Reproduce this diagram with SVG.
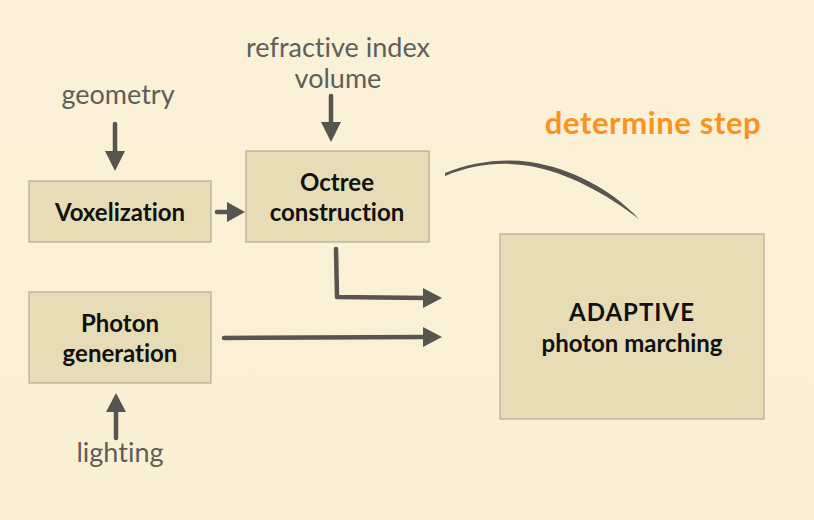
<svg xmlns="http://www.w3.org/2000/svg" width="814" height="520" viewBox="0 0 814 520">
<defs>
<linearGradient id="bg" x1="0" y1="0" x2="0" y2="1"><stop offset="0" stop-color="#fbf1d8"/><stop offset="1" stop-color="#f9efd3"/></linearGradient>
</defs>
<style>
text{font-variant-ligatures:none;font-feature-settings:"liga" 0,"dlig" 0}
.box{fill:#e6dcb6;stroke:#b3ab94;stroke-width:1.2}
.lbl{font-family:Lato,"Open Sans",sans-serif;font-weight:bold;fill:#111;text-anchor:middle;font-size:24px}
.inp{font-family:Lato,"Open Sans",sans-serif;fill:#5e5e5c;text-anchor:middle;font-size:27px}
.c{fill:none;stroke:#58544f;stroke-width:4.5;stroke-linecap:round;stroke-linejoin:round}
.h{fill:#58544f}
</style>
<rect width="814" height="520" fill="url(#bg)"/>
<g id="connectors">
<path class="c" d="M115,124 L115,154"/><path class="h" d="M105,151 L125,151 L115,171 Z"/>
<path class="c" d="M331,96 L331,124"/><path class="h" d="M321,122 L341,122 L331,142 Z"/>
<path class="c" d="M217,212 L230,212"/><path class="h" d="M227,202 L245,212 L227,222 Z"/>
<path class="c" d="M336,249 L337,297 L426,298"/><path class="h" d="M423,288 L442,298 L423,308 Z"/>
<path class="c" d="M224,338 L426,337"/><path class="h" d="M423,327 L442,337 L423,347 Z"/>
<path class="c" d="M116,438 L116,410"/><path class="h" d="M106,412 L126,412 L116,393 Z"/>
<path d="M445,173 C470,163 500,158 530,162 C570,168 610,188 639,219 C605,193 568,173 530,166 C500,161 472,165 445,176 Z" fill="#58544f"/>
</g>
<g id="geometry"><text class="inp" x="118" y="104">geometry</text></g>
<g id="refractive"><text class="inp" x="338" y="57">refractive index</text><text class="inp" x="338" y="88">volume</text></g>
<g id="determine"><text x="653" y="134" font-family="Lato,'Open Sans',sans-serif" font-weight="bold" font-size="31" letter-spacing="0.6" fill="#f8931f" text-anchor="middle">determine step</text></g>
<g id="voxelization"><rect class="box" x="29" y="181" width="182" height="61"/><text class="lbl" x="120" y="221">Voxelization</text></g>
<g id="octree"><rect class="box" x="246" y="151" width="183" height="91"/><text class="lbl" x="337" y="191">Octree</text><text class="lbl" x="337" y="221">construction</text></g>
<g id="photon"><rect class="box" x="29" y="292" width="182" height="91"/><text class="lbl" x="120" y="332">Photon</text><text class="lbl" x="120" y="362">generation</text></g>
<g id="adaptive"><rect class="box" x="500" y="234" width="264" height="185"/><text class="lbl" x="632" y="321" font-size="26" letter-spacing="1">ADAPTIVE</text><text class="lbl" x="632" y="352">photon marching</text></g>
<g id="lighting"><text class="inp" x="120" y="462">lighting</text></g>
</svg>
